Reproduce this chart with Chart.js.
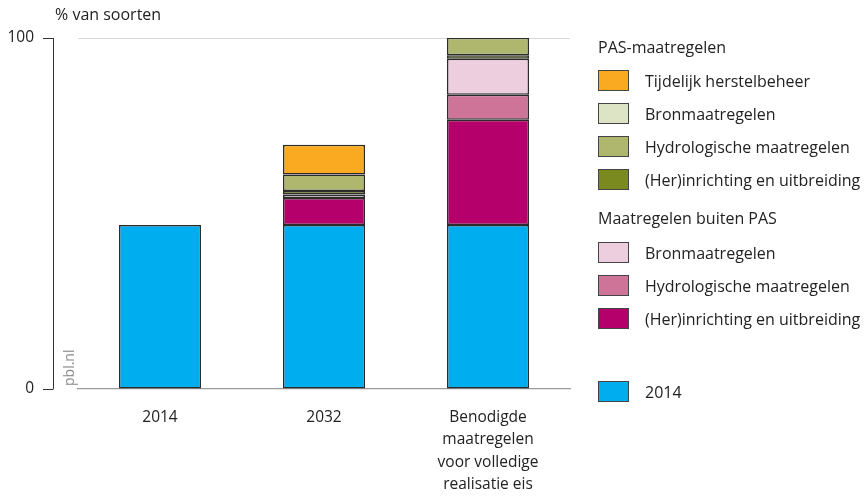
<!DOCTYPE html>
<html>
<head>
<meta charset="utf-8">
<script src="https://cdn.jsdelivr.net/npm/chart.js@4/dist/chart.umd.min.js"></script>
<style>
  html, body { margin: 0; padding: 0; background: #fff; }
  #wrap { position: relative; width: 866px; height: 497px; font-family: "Open Sans", sans-serif; color: #222; overflow: hidden; }
  #c { position: absolute; left: 0; top: 0; }
  #ytitle { position: absolute; left: 55px; top: 3px; font-size: 16px; }
  #legend { position: absolute; left: 598px; top: 0; width: 268px; height: 497px; font-size: 16px; }
  .lg-h { position: absolute; left: 0; white-space: nowrap; line-height: 22px; }
  .lg-i { position: absolute; left: 0; white-space: nowrap; height: 21px; width: 268px; }
  .lg-i .sw { position: absolute; left: 0; top: 0; width: 29px; height: 19px; border: 1px solid #444; }
  .lg-i .tx { position: absolute; left: 47px; top: 50%; transform: translateY(-50%); line-height: 22px; }
</style>
</head>
<body>
<div id="wrap">
  <canvas id="c" width="866" height="497"></canvas>
  <div id="ytitle">% van soorten</div>
  <div id="legend"></div>
</div>
<script>
// ---- data ----
const categories = ['2014', '2032', ['Benodigde', 'maatregelen', 'voor volledige', 'realisatie eis']];
const yTicks = [0, 100];

const base2014         = [46.7, 46.7, 46.7];
const buitenInrichting = [null, 7.7, 30.0];
const buitenHydro      = [null, null, 7.1];
const buitenBron       = [null, 1.0, 10.3];
const pasInrichting    = [null, 1.0, 1.0];
const pasHydro         = [null, 4.7, 5.0];
const pasBron          = [null, null, null];
const pasTijdelijk     = [null, 8.5, null];

const groupPAS = 'PAS-maatregelen';
const groupBuiten = 'Maatregelen buiten PAS';
const labelTijdelijk = 'Tijdelijk herstelbeheer';
const labelBron = 'Bronmaatregelen';
const labelHydro = 'Hydrologische maatregelen';
const labelInrichting = '(Her)inrichting en uitbreiding';
const label2014 = '2014';
const sourceLabel = 'pbl.nl';

// ---- styles ----
const colors = {
  base: '#00aeef',
  bInr: '#b5006b',
  bHyd: '#cf7499',
  bBron: '#eccedf',
  pInr: '#7b8a1f',
  pHyd: '#afb76f',
  pBron: '#dde3c5',
  pTij: '#f9aa20'
};
const border = '#2b2b2b';

function ds(label, data, color) {
  return { label, data, backgroundColor: color, borderColor: border, borderWidth: 1.5, borderSkipped: false,
           barPercentage: 1.0, categoryPercentage: 0.5, stack: 's' };
}

const datasets = [
  ds(label2014, base2014, colors.base),
  ds(labelInrichting, buitenInrichting, colors.bInr),
  ds(labelHydro, buitenHydro, colors.bHyd),
  ds(labelBron, buitenBron, colors.bBron),
  ds(labelInrichting, pasInrichting, colors.pInr),
  ds(labelHydro, pasHydro, colors.pHyd),
  ds(labelBron, pasBron, colors.pBron),
  ds(labelTijdelijk, pasTijdelijk, colors.pTij)
];

const FONT = '"Open Sans", sans-serif';

const axisPlugin = {
  id: 'axisDeco',
  afterDraw(chart) {
    const ctx = chart.ctx;
    const y = chart.scales.y;
    const ca = chart.chartArea;
    const ax = ca.left - 25;
    const yTop = y.getPixelForValue(100);
    const yBot = y.getPixelForValue(0);
    ctx.save();
    ctx.strokeStyle = '#333';
    ctx.lineWidth = 1;
    ctx.beginPath();
    ctx.moveTo(ax + 0.5, yTop);
    ctx.lineTo(ax + 0.5, yBot);
    ctx.moveTo(ax - 10, yTop + 0.5);
    ctx.lineTo(ax + 0.5, yTop + 0.5);
    ctx.moveTo(ax - 10, yBot + 0.5);
    ctx.lineTo(ax + 0.5, yBot + 0.5);
    ctx.stroke();
    // source label
    ctx.translate(ax + 17, yBot - 3);
    ctx.rotate(-Math.PI / 2);
    ctx.fillStyle = '#8a8a8a';
    ctx.font = '14px ' + FONT;
    ctx.textAlign = 'left';
    ctx.textBaseline = 'middle';
    ctx.fillText(sourceLabel, 0, 0);
    ctx.restore();
  }
};

new Chart(document.getElementById('c'), {
  type: 'bar',
  data: { labels: categories, datasets },
  plugins: [axisPlugin],
  options: {
    responsive: false,
    animation: false,
    layout: { padding: { top: 38, right: 296, left: 0, bottom: 0 } },
    plugins: { legend: { display: false }, tooltip: { enabled: false }, title: { display: false } },
    scales: {
      x: {
        stacked: true,
        grid: { display: false, drawTicks: false },
        border: { display: true, color: '#9a9a9a', width: 1.3 },
        ticks: { color: '#222', font: { family: FONT, size: 15.5, lineHeight: 1.45 }, padding: 17, maxRotation: 0, autoSkip: false },
        afterFit(scale) { scale.height = 108; scale.paddingTop = 0; scale.paddingBottom = 0; scale.paddingLeft = 0; scale.paddingRight = 0; }
      },
      y: {
        stacked: true,
        min: 0, max: 100,
        afterBuildTicks(scale) { scale.ticks = yTicks.map(v => ({ value: v })); },
        grid: { drawTicks: false, color: ctx => (ctx.tick && ctx.tick.value === 100 ? '#d9d9d9' : 'rgba(0,0,0,0)'), lineWidth: 1 },
        border: { display: false },
        ticks: { color: '#222', font: { family: FONT, size: 15.5 }, padding: 44 },
        afterFit(scale) { scale.width = 78; scale.paddingTop = 0; scale.paddingBottom = 0; }
      }
    }
  }
});

// ---- HTML legend built from the datasets ----
const legendRows = [
  { type: 'h', text: groupPAS, y: 47 },
  { type: 'i', ds: 7, y: 80 },
  { type: 'i', ds: 6, y: 113 },
  { type: 'i', ds: 5, y: 146 },
  { type: 'i', ds: 4, y: 179 },
  { type: 'h', text: groupBuiten, y: 218 },
  { type: 'i', ds: 3, y: 252 },
  { type: 'i', ds: 2, y: 285 },
  { type: 'i', ds: 1, y: 318 },
  { type: 'i', ds: 0, y: 391 }
];
const leg = document.getElementById('legend');
legendRows.forEach(r => {
  const el = document.createElement('div');
  if (r.type === 'h') {
    el.className = 'lg-h';
    el.textContent = r.text;
    el.style.top = (r.y - 11) + 'px';
  } else {
    const d = datasets[r.ds];
    el.className = 'lg-i';
    el.style.top = (r.y - 10) + 'px';
    const sw = document.createElement('div');
    sw.className = 'sw';
    sw.style.background = d.backgroundColor;
    const tx = document.createElement('div');
    tx.className = 'tx';
    tx.textContent = d.label;
    el.appendChild(sw);
    el.appendChild(tx);
  }
  leg.appendChild(el);
});
</script>
</body>
</html>
